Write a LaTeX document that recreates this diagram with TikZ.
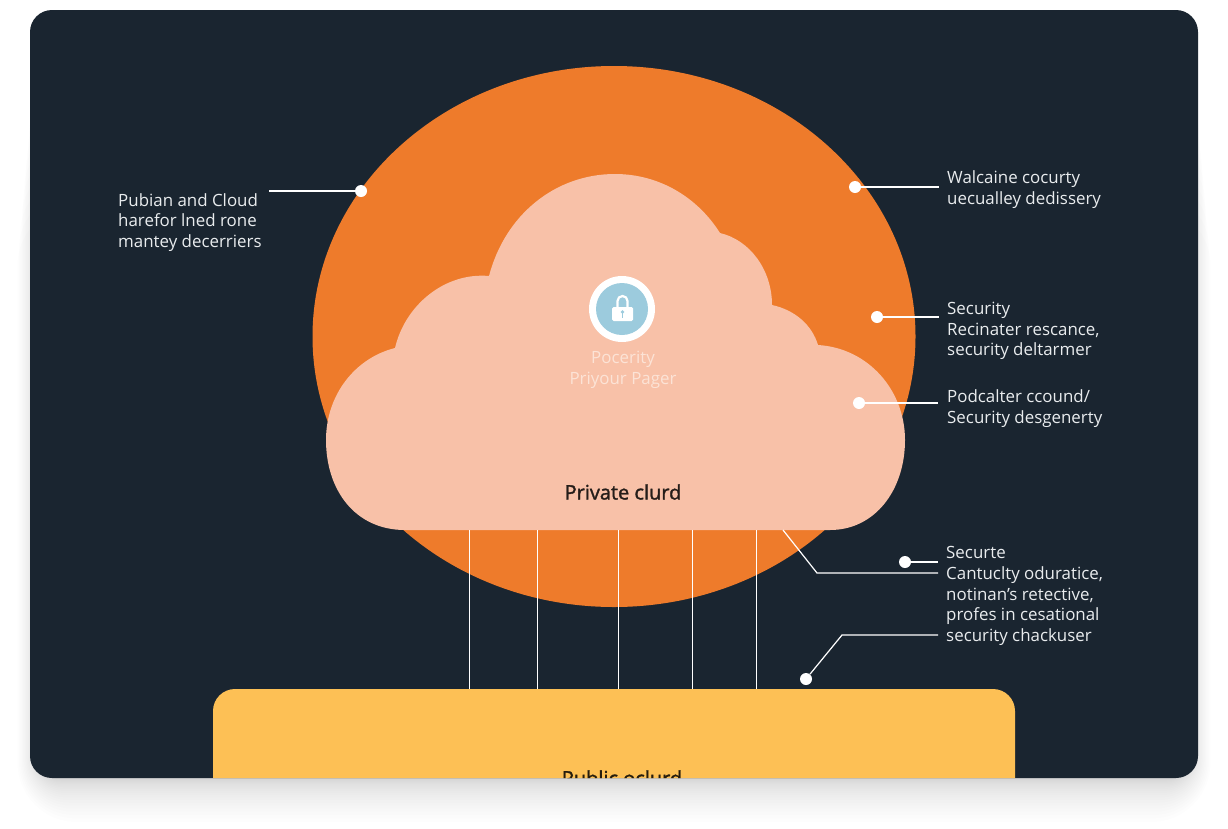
\documentclass[tikz,border=0pt]{standalone}
\usepackage{fontspec}
\setmainfont{Open Sans}
\newfontfamily\mediumface[FakeBold=1.5]{Open Sans}
\definecolor{cardnavy}{HTML}{1A2530}
\definecolor{discorange}{HTML}{EE7B2B}
\definecolor{cloudpeach}{HTML}{F8C1A8}
\definecolor{boxyellow}{HTML}{FDC055}
\definecolor{iconblue}{HTML}{9CCBDD}
\definecolor{notegrey}{HTML}{E9ECEE}
\definecolor{softpeach}{HTML}{FCE3D6}
\tikzset{
  leader/.style={draw=white, line width=1.2pt},
  dotmark/.style={circle, fill=white, inner sep=0pt, minimum size=12pt},
  notetext/.style={text=notegrey, align=left, anchor=west, inner sep=0pt, font=\fontsize{16.9}{20.8}\selectfont},
}
\begin{document}
\begin{tikzpicture}[x=1pt, y=-1pt]

\useasboundingbox (0,0) rectangle (1228,828);

% Soft shadow under the card
\foreach \k in {1,...,24} {
  \pgfmathsetmacro{\g}{44*(\k/24)^2}
  \fill [black, opacity=0.0075, rounded corners=24pt+0.8*\g pt] (36-0.42*\g,30+4*\g) rectangle (1192+0.42*\g,778+\g);
}

% Card
\fill [cardnavy, rounded corners=22pt] (30,10) rectangle (1198,778);

% Everything on the card stops at its edge
\begin{scope}
\clip [rounded corners=22pt] (30,10) rectangle (1198,778);

% Orange disc
\fill [discorange] (614,336.5) ellipse [x radius=301.5, y radius=270.5];

% Public box
\fill [boxyellow, rounded corners=22pt] (213,689) rectangle (1015,840);
\node [inner sep=0pt, text=black!85!boxyellow, font=\fontsize{20}{24}\mediumface] (publiclabel) at (622,778) {Public oclurd};
\coordinate (boxtop) at (622,689);

% Private cloud
\fill [cloudpeach]
  (405,530) .. controls (355,530) and (326,490) .. (326,440)
  .. controls (326,395) and (355,358) .. (395,348)
  .. controls (405,305) and (445,272) .. (489,276)
  .. controls (505,215) and (555,174) .. (615,174)
  .. controls (660,174) and (698,198) .. (720,233)
  .. controls (750,240) and (772,270) .. (772,305)
  .. controls (795,310) and (812,325) .. (818,345)
  .. controls (868,348) and (905,390) .. (905,440)
  .. controls (905,490) and (875,530) .. (830,530) -- cycle;
\coordinate (cloudbase) at (622,530);

% Drops from cloud to box
\foreach \px in {469,537,618,692,756}
  \draw [white, line width=0.9pt] (\px,0 |- cloudbase) -- (\px,0 |- boxtop);

% Lock badge
\node [circle, fill=white, minimum size=66pt, inner sep=0pt] (lockring) at (622,309) {};
\node [circle, fill=iconblue, minimum size=52pt, inner sep=0pt] (lockdisc) at (lockring) {};
\draw [white, line width=2.2pt] (617.5,308) -- (617.5,301) arc [start angle=180, end angle=360, x radius=5, y radius=5] -- (627.5,308);
\fill [white, rounded corners=1.5pt] (612,307) rectangle (633,321);
\fill [iconblue] (622.5,312) circle [radius=1.8];
\fill [iconblue] (621.8,312) rectangle (623.2,318);
\node [inner sep=0pt, text=softpeach, align=center, font=\fontsize{16.9}{20.8}\selectfont] (locklabel) at (623,369.5) {Pocerity\\Priyour Pager};

% Cloud name
\node [inner sep=0pt, text=black!85!cloudpeach, font=\fontsize{20}{24}\mediumface] (cloudlabel) at (623,492) {Private clurd};

% Notes
\node [notetext] (notea) at (118,222.5) {Pubian and Cloud\\harefor lned rone\\mantey decerriers};
\node [notetext] (noteb) at (947,190) {Walcaine cocurty\\uecualley dedissery};
\node [notetext] (notec) at (947,331) {Security\\Recinater rescance,\\security deltarmer};
\node [notetext] (noted) at (947,408.5) {Podcalter ccound/\\Security desgenerty};
\node [notetext] (notee) at (946,596) {Securte\\Cantuclty oduratice,\\notinan's retective,\\profes in cesational\\security chackuser};

% Dots
\node [dotmark] (dota) at (361,191) {};
\node [dotmark] (dotb) at (855,187) {};
\node [dotmark] (dotc) at (877,317) {};
\node [dotmark] (dotd) at (859,403) {};
\node [dotmark] (dote) at (905,562) {};
\node [dotmark] (dotf) at (806,679) {};

% Leader ends
\coordinate (enda) at (269,191);
\coordinate (endb) at (939,187);
\coordinate (endc) at (939,317);
\coordinate (endd) at (938,403);
\coordinate (ende) at (938,562);
\coordinate (startg) at (783,530);
\coordinate (bendg) at (817,573);
\coordinate (endg) at (938,573);
\coordinate (bendf) at (842,635);
\coordinate (endf) at (938,635);

% Leaders
\draw [leader] (dota) -- (enda);
\draw [leader] (dotb) -- (endb);
\draw [leader] (dotc) -- (endc);
\draw [leader] (dotd) -- (endd);
\draw [leader] (dote) -- (ende);
\draw [leader] (startg) -- (bendg) -- (endg);
\draw [leader] (dotf) -- (bendf) -- (endf);

\end{scope}

\end{tikzpicture}
\end{document}
